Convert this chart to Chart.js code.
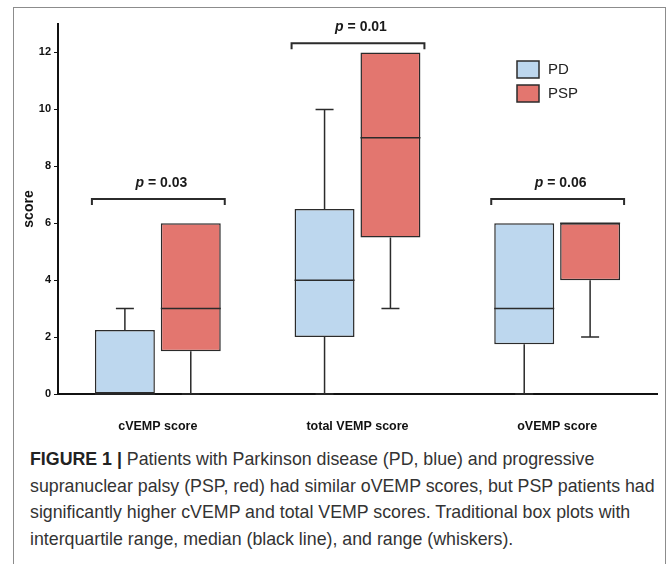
<!DOCTYPE html>
<html>
<head>
<meta charset="utf-8">
<script src="https://cdn.jsdelivr.net/npm/chart.js@4.4.0/dist/chart.umd.min.js"></script>
<style>
  body { margin: 0; background: #fff; }
  #frame { position: absolute; left: 13px; top: 7px; width: 651px; height: 620px; border: 1px solid #8c8c8c; border-bottom: none; }
  #chartBox { position: absolute; left: 0; top: 0; }
  #caption { position: absolute; left: 30px; top: 446px; font-family: "Liberation Sans", Arial, sans-serif; font-size: 17.8px; line-height: 26.5px; color: #333; white-space: nowrap; }
  #caption b { color: #222; }
</style>
</head>
<body>
<div id="frame"></div>
<canvas id="chartBox" width="669" height="445"></canvas>
<div id="caption">
  <div><b>FIGURE 1 |</b> Patients with Parkinson disease (PD, blue) and progressive</div>
  <div>supranuclear palsy (PSP, red) had similar oVEMP scores, but PSP patients had</div>
  <div>significantly higher cVEMP and total VEMP scores. Traditional box plots with</div>
  <div>interquartile range, median (black line), and range (whiskers).</div>
</div>
<script>
// categories and box statistics
const categories = ['cVEMP score', 'total VEMP score', 'oVEMP score'];

const pdMin    = [0, 0, 0];
const pdQ1     = [0, 2, 1.75];
const pdMedian = [0, 4, 3];
const pdQ3     = [2.25, 6.5, 6];
const pdMax    = [3, 10, 6];

const pspMin    = [0, 3, 2];
const pspQ1     = [1.5, 5.5, 4];
const pspMedian = [3, 9, 6];
const pspQ3     = [6, 12, 6];
const pspMax    = [6, 12, 6];

const pValues  = ['0.03', '0.01', '0.06'];
const bracketY = [6.85, 12.32, 6.85];

const yMax = 13;
const yStep = 2;

const lineColor = '#2b2b2b';

const boxWhiskers = {
    id: 'boxWhiskers',
    afterDatasetsDraw(chart) {
        const ctx = chart.ctx;
        const y = chart.scales.y;
        const stats = [[pdMin, pdMedian, pdMax], [pspMin, pspMedian, pspMax]];
        ctx.save();
        ctx.strokeStyle = lineColor;
        ctx.lineWidth = 1.5;
        chart.data.datasets.forEach(function(ds, d) {
            const meta = chart.getDatasetMeta(d);
            meta.data.forEach(function(bar, i) {
                const q1 = ds.data[i][0], q3 = ds.data[i][1];
                const half = bar.width / 2;
                const cap = 9;
                ctx.beginPath();
                const ym = y.getPixelForValue(stats[d][1][i]);
                ctx.moveTo(bar.x - half, ym); ctx.lineTo(bar.x + half, ym);
                if (stats[d][2][i] > q3) {
                    const yt = y.getPixelForValue(stats[d][2][i]);
                    ctx.moveTo(bar.x, y.getPixelForValue(q3)); ctx.lineTo(bar.x, yt);
                    ctx.moveTo(bar.x - cap, yt); ctx.lineTo(bar.x + cap, yt);
                }
                if (stats[d][0][i] < q1) {
                    const yb = y.getPixelForValue(stats[d][0][i]);
                    ctx.moveTo(bar.x, y.getPixelForValue(q1)); ctx.lineTo(bar.x, yb);
                    ctx.moveTo(bar.x - cap, yb); ctx.lineTo(bar.x + cap, yb);
                }
                ctx.stroke();
            });
        });

        // significance brackets
        const m0 = chart.getDatasetMeta(0), m1 = chart.getDatasetMeta(1);
        ctx.fillStyle = '#1a1a1a';
        categories.forEach(function(c, i) {
            const left = m0.data[i].x - m0.data[i].width / 2 - 3;
            const right = m1.data[i].x + m1.data[i].width / 2 + 4;
            const by = y.getPixelForValue(bracketY[i]);
            ctx.beginPath();
            ctx.moveTo(left, by + 6); ctx.lineTo(left, by); ctx.lineTo(right, by); ctx.lineTo(right, by + 6);
            ctx.lineWidth = 2;
            ctx.stroke();
            const pFont = 'italic bold 14px "Liberation Sans", Arial, sans-serif';
            const rFont = 'bold 14px "Liberation Sans", Arial, sans-serif';
            const rest = ' = ' + pValues[i];
            ctx.font = pFont; const w1 = ctx.measureText('p').width;
            ctx.font = rFont; const w2 = ctx.measureText(rest).width;
            const tx = (left + right) / 2 - (w1 + w2) / 2 + 3;
            ctx.textBaseline = 'alphabetic';
            ctx.textAlign = 'left';
            ctx.font = pFont; ctx.fillText('p', tx, by - 12);
            ctx.font = rFont; ctx.fillText(rest, tx + w1, by - 12);
        });
        ctx.restore();
    },
    afterDraw(chart) {
        // legend
        const ctx = chart.ctx;
        ctx.save();
        chart.data.datasets.forEach(function(ds, d) {
            const x = 517, top = 61 + d * 24;
            ctx.fillStyle = ds.backgroundColor;
            ctx.fillRect(x, top, 22, 17);
            ctx.strokeStyle = lineColor;
            ctx.lineWidth = 1.5;
            ctx.strokeRect(x, top, 22, 17);
            ctx.fillStyle = '#222';
            ctx.font = '15px "Liberation Sans", Arial, sans-serif';
            ctx.textBaseline = 'middle';
            ctx.fillText(ds.label, x + 31, top + 9);
        });
        ctx.restore();
    }
};

new Chart(document.getElementById('chartBox').getContext('2d'), {
    type: 'bar',
    data: {
        labels: categories,
        datasets: [{
            label: 'PD',
            data: pdQ1.map((v, i) => [v, pdQ3[i]]),
            backgroundColor: '#bdd7ee',
            borderColor: lineColor,
            borderWidth: 1.5,
            borderSkipped: false,
            categoryPercentage: 0.66,
            barPercentage: 0.91
        }, {
            label: 'PSP',
            data: pspQ1.map((v, i) => [v, pspQ3[i]]),
            backgroundColor: '#e3766f',
            borderColor: lineColor,
            borderWidth: 1.5,
            borderSkipped: false,
            categoryPercentage: 0.66,
            barPercentage: 0.91
        }]
    },
    options: {
        responsive: false,
        animation: false,
        layout: { padding: { left: 14, top: 24, right: 12, bottom: 0 } },
        plugins: { legend: { display: false }, tooltip: { enabled: false } },
        scales: {
            x: {
                grid: { display: false },
                border: { display: true, color: '#111', width: 2 },
                ticks: {
                    padding: 17,
                    color: '#111',
                    font: { family: '"Liberation Sans", Arial, sans-serif', size: 12.5, weight: 'bold' }
                },
                afterFit: function(scale) { scale.height = 51; }
            },
            y: {
                min: 0,
                max: yMax,
                grid: { display: true, drawOnChartArea: false, drawTicks: true, tickLength: 4, color: '#111', lineWidth: 1 },
                border: { display: true, color: '#111', width: 2 },
                ticks: {
                    stepSize: yStep,
                    includeBounds: false,
                    padding: 3,
                    color: '#111',
                    font: { family: '"Liberation Sans", Arial, sans-serif', size: 11, weight: 'bold' }
                },
                title: {
                    display: true,
                    text: 'score',
                    color: '#111',
                    padding: { top: 7, bottom: 0 },
                    font: { family: '"Liberation Sans", Arial, sans-serif', size: 14, weight: 'bold' }
                },
                afterFit: function(scale) { scale.width = 44; }
            }
        }
    },
    plugins: [boxWhiskers]
});
</script>
</body>
</html>
